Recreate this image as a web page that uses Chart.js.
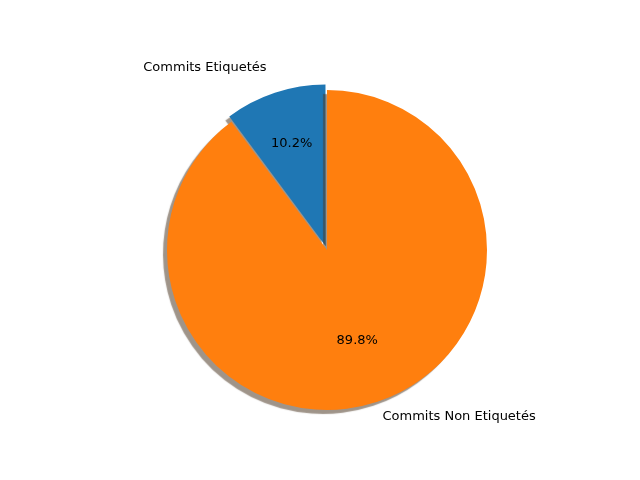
<!DOCTYPE html>
<html>
<head>
<meta charset="utf-8">
<script src="https://cdn.jsdelivr.net/npm/chart.js@4"></script>
<style>
  html, body { margin: 0; padding: 0; background: #ffffff; }
  #wrap { width: 640px; height: 480px; }
</style>
</head>
<body>
<div id="wrap"><canvas id="pieChart" width="640" height="480"></canvas></div>
<script>
// Data
const categories = ['Commits Etiquetés', 'Commits Non Etiquetés'];
const shares = [10.2, 89.8];
const sliceColors = ['#1f77b4', '#ff7f0e'];

// Matplotlib-style drop shadow under the slices
const shadowPlugin = {
    id: 'shadow',
    beforeDatasetsDraw(chart) {
        const ctx = chart.ctx;
        ctx.save();
        ctx.shadowColor = 'rgba(80, 60, 40, 0.55)';
        ctx.shadowOffsetX = -4;
        ctx.shadowOffsetY = 4;
        ctx.shadowBlur = 1;
    },
    afterDatasetsDraw(chart) {
        chart.ctx.restore();
    }
};

// Category labels outside (1.1 r) and percentages inside (0.6 r)
const labelPlugin = {
    id: 'pieLabels',
    afterDatasetsDraw(chart) {
        const ctx = chart.ctx;
        const meta = chart.getDatasetMeta(0);
        ctx.save();
        ctx.font = '13px "DejaVu Sans", sans-serif';
        ctx.fillStyle = '#000000';
        ctx.textBaseline = 'middle';
        meta.data.forEach(function(arc, i) {
            const p = arc.getProps(['x', 'y', 'startAngle', 'endAngle', 'outerRadius'], true);
            const mid = (p.startAngle + p.endAngle) / 2;
            const off = chart.data.datasets[0].offset[i] || 0;
            const cx = p.x + Math.cos(mid) * off;
            const cy = p.y + Math.sin(mid) * off;
            const r = p.outerRadius;
            ctx.textAlign = 'center';
            ctx.fillText(shares[i].toFixed(1) + '%', cx + Math.cos(mid) * r * 0.6, cy + Math.sin(mid) * r * 0.6);
            ctx.textAlign = Math.cos(mid) < 0 ? 'right' : 'left';
            ctx.fillText(categories[i], cx + Math.cos(mid) * r * 1.1, cy + Math.sin(mid) * r * 1.1);
        });
        ctx.restore();
    }
};

new Chart(document.getElementById('pieChart'), {
    type: 'pie',
    data: {
        labels: categories,
        datasets: [{
            data: shares,
            backgroundColor: sliceColors,
            borderWidth: 0,
            offset: [16, 0]
        }]
    },
    options: {
        responsive: false,
        animation: false,
        radius: 160,
        rotation: -shares[0] / 100 * 360,
        layout: { padding: { left: 14, right: 0, top: 20, bottom: 0 } },
        plugins: {
            legend: { display: false },
            tooltip: { enabled: false }
        }
    },
    plugins: [shadowPlugin, labelPlugin]
});
</script>
</body>
</html>
